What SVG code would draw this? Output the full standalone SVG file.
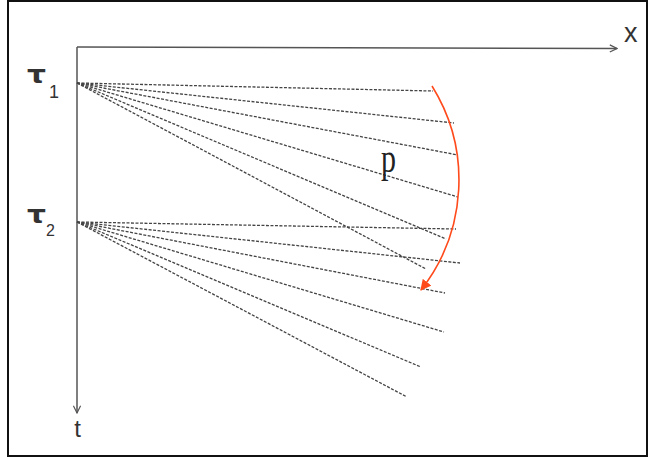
<svg xmlns="http://www.w3.org/2000/svg" width="650" height="459" viewBox="0 0 650 459">
<defs>
<marker id="open" viewBox="0 0 10 10" refX="9" refY="5" markerWidth="9" markerHeight="9" markerUnits="userSpaceOnUse" orient="auto">
<path d="M1,1 L9,5 L1,9" fill="none" stroke="#555" stroke-width="1.3"/>
</marker>
<marker id="red" viewBox="0 0 10 10" refX="9" refY="5" markerWidth="11" markerHeight="11" markerUnits="userSpaceOnUse" orient="auto">
<path d="M0,0 L10,5 L0,10 Z" fill="#ff4a1c"/>
</marker>
</defs>
<style>
.axis{stroke:#555;stroke-width:1.5;fill:none}
.ray{stroke:#444;stroke-width:1.3;stroke-dasharray:3 1.5;fill:none}
.lbl{font-family:"Liberation Sans",Arial,sans-serif;fill:#333}
.tau{font-family:"DejaVu Sans",sans-serif;font-weight:bold;fill:#333}
</style>
<rect x="0" y="0" width="650" height="459" fill="#fff"/>
<rect x="8" y="1" width="639" height="455" fill="none" stroke="#111" stroke-width="2"/>
<g id="axes">
<line class="axis" x1="77" y1="47" x2="617" y2="48.5" marker-end="url(#open)"/>
<line class="axis" x1="77" y1="47" x2="77" y2="413" marker-end="url(#open)"/>
</g>
<g id="connectors">
<line class="ray" x1="77" y1="83" x2="433" y2="91"/>
<line class="ray" x1="77" y1="83" x2="454" y2="123"/>
<line class="ray" x1="77" y1="83" x2="458" y2="155"/>
<line class="ray" x1="77" y1="83" x2="458" y2="197"/>
<line class="ray" x1="77" y1="83" x2="446" y2="239"/>
<line class="ray" x1="77" y1="83" x2="426" y2="269"/>
<line class="ray" x1="77" y1="222" x2="456" y2="229"/>
<line class="ray" x1="77" y1="222" x2="460" y2="263"/>
<line class="ray" x1="77" y1="222" x2="445" y2="293"/>
<line class="ray" x1="77" y1="222" x2="444" y2="332"/>
<line class="ray" x1="77" y1="222" x2="421" y2="367"/>
<line class="ray" x1="77" y1="222" x2="407" y2="397"/>
<path d="M432,86 A178,178 0 0,1 421,290" fill="none" stroke="#ff4a1c" stroke-width="1.6" marker-end="url(#red)"/>
</g>
<g id="label-x"><text class="lbl" x="624" y="42" font-size="27">x</text></g>
<g id="label-t"><text class="lbl" x="77.5" y="437" font-size="24" text-anchor="middle">t</text></g>
<g id="label-tau1"><text class="tau" x="27" y="83" font-size="25" textLength="19" lengthAdjust="spacingAndGlyphs">τ</text><text class="lbl" x="49" y="98" font-size="18" fill="#888">1</text></g>
<g id="label-tau2"><text class="tau" x="27" y="223" font-size="25" textLength="19" lengthAdjust="spacingAndGlyphs">τ</text><text class="lbl" x="46" y="236" font-size="16">2</text></g>
<g id="label-p"><text x="381" y="172" font-family="'Liberation Serif','Times New Roman',serif" font-size="40" fill="#222" textLength="15" lengthAdjust="spacingAndGlyphs">p</text></g>
</svg>
